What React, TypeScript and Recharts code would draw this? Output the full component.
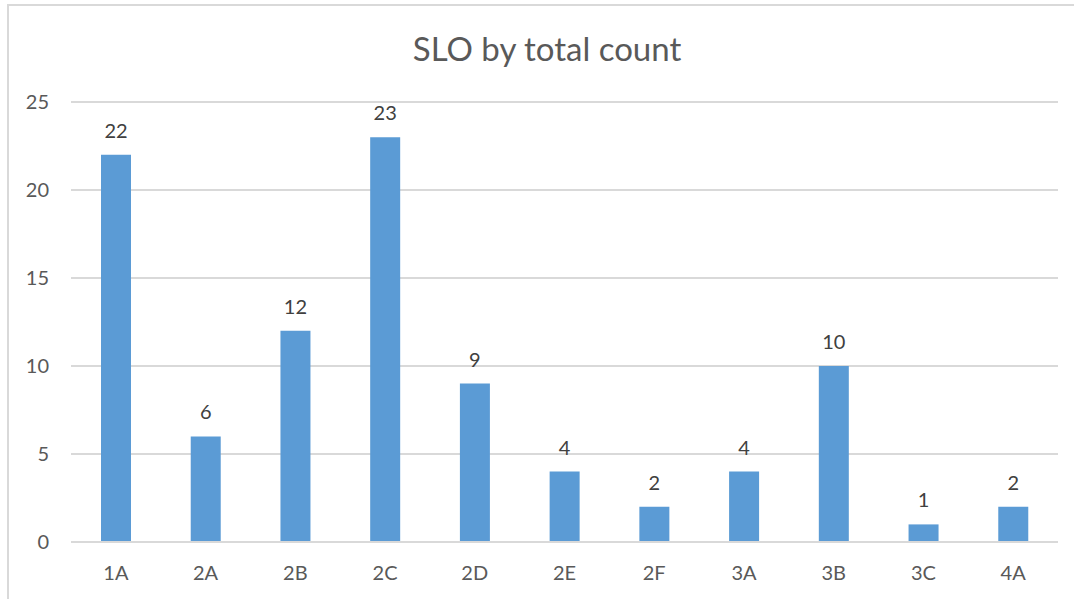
import React from "react";
import { BarChart, Bar, XAxis, YAxis, CartesianGrid, LabelList } from "recharts";

const categories = ["1A", "2A", "2B", "2C", "2D", "2E", "2F", "3A", "3B", "3C", "4A"];
const counts = [22, 6, 12, 23, 9, 4, 2, 4, 10, 1, 2];
const yTicks = [0, 5, 10, 15, 20, 25];

const data = categories.map((slo, i) => ({ slo, count: counts[i] }));

const FONT = "Lato, 'Open Sans', sans-serif";

export default function App() {
    return (
        <div style={{ position: "absolute", left: 0, top: 0, width: 1074, height: 599, overflow: "hidden", background: "#fff", fontFamily: FONT }}>
            <div
                style={{
                    position: "absolute",
                    left: 7,
                    top: 4,
                    width: 1200,
                    height: 800,
                    borderTop: "2px solid #d9d9d9",
                    borderLeft: "2px solid #d9d9d9",
                }}
            />
            <div
                style={{
                    position: "absolute",
                    left: 0,
                    width: 1094,
                    top: 27,
                    textAlign: "center",
                    fontSize: 33,
                    color: "#595959",
                    lineHeight: "42px",
                }}
            >
                SLO by total count
            </div>
            <div style={{ position: "absolute", left: 0, top: 0 }}>
                <BarChart width={1074} height={599} data={data} margin={{ top: 102, right: 16, left: 0, bottom: 0 }}>
                    <CartesianGrid vertical={false} stroke="#d9d9d9" strokeWidth={2} />
                    <XAxis
                        dataKey="slo"
                        height={57}
                        axisLine={{ stroke: "#d9d9d9", strokeWidth: 2 }}
                        tickLine={false}
                        tickSize={0}
                        tickMargin={24}
                        tick={{ fill: "#595959", fontSize: 20, fontFamily: FONT }}
                    />
                    <YAxis
                        width={71}
                        domain={[0, 25]}
                        ticks={yTicks}
                        axisLine={false}
                        tickLine={false}
                        tickSize={0}
                        tickMargin={22}
                        tick={{ fill: "#595959", fontSize: 20, fontFamily: FONT }}
                    />
                    <Bar dataKey="count" fill="#5b9bd5" barSize={30} isAnimationActive={false}>
                        <LabelList dataKey="count" position="top" offset={17} fill="#404040" fontSize={20} fontFamily={FONT} />
                    </Bar>
                </BarChart>
            </div>
        </div>
    );
}
